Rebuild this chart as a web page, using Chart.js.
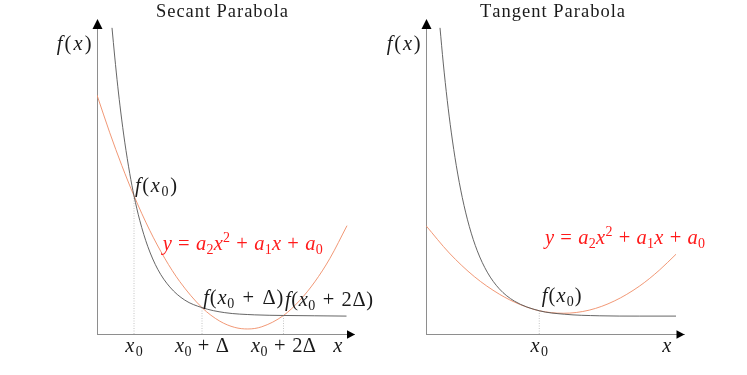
<!DOCTYPE html>
<html><head><meta charset="utf-8">
<script src="https://cdn.jsdelivr.net/npm/chart.js@4.4.1/dist/chart.umd.min.js"></script>
<style>
html,body{margin:0;padding:0;background:#fff;}
#wrap{position:relative;width:747px;height:375px;overflow:hidden;}
canvas{position:absolute;left:0;top:0;}
</style></head><body>
<div id="wrap"><canvas id="c1" width="747" height="375"></canvas><canvas id="c2" width="747" height="375"></canvas></div>
<script>
// ---------- Data (axis units) ----------
// Secant panel
const secantCurveX = [0.60,0.71,0.83,0.95,1.11,1.31,1.48,1.71,2.03,2.43,2.91,3.51,4.20,5.11,6.31,7.46,8.71,9.98];
const secantCurveY = [9.75,8.82,7.89,7.07,6.11,5.11,4.40,3.62,2.79,2.06,1.50,1.08,0.84,0.68,0.61,0.59,0.58,0.57];
const secantParabolaX = [0,0.51,0.99,1.48,2.11,2.71,3.31,4.20,4.91,5.51,6.03,6.59,7.46,8.11,8.71,9.31,10.0];
const secantParabolaY = [7.61,6.41,5.37,4.40,3.30,2.41,1.67,0.84,0.41,0.21,0.16,0.23,0.59,1.07,1.66,2.40,3.45];
const secantPointX = [1.48,4.20,7.46];
const secantPointY = [4.40,0.84,0.59];
const secantTickLabels = ['x_0','x_0 + Δ','x_0 + 2Δ'];
const secantPointLabels = ['f(x_0)','f(x_0 + Δ)','f(x_0 + 2Δ)'];
// Tangent panel
const tangentCurveX = [0.56,0.69,0.85,1.01,1.21,1.45,1.73,2.05,2.45,2.93,3.53,4.53,5.53,6.93,8.53,10.0];
const tangentCurveY = [9.75,8.63,7.44,6.43,5.37,4.35,3.43,2.65,1.97,1.44,1.05,0.74,0.63,0.58,0.57,0.57];
const tangentParabolaX = [0,0.93,1.93,2.93,3.73,4.53,5.49,6.53,7.53,8.53,9.33,10.0];
const tangentParabolaY = [3.45,2.58,1.83,1.27,0.95,0.74,0.66,0.76,1.05,1.52,2.03,2.54];
const tangentPointX = [4.53];
const tangentPointY = [0.74];
const tangentTickLabels = ['x_0'];
const tangentPointLabels = ['f(x_0)'];
const titles = ['Secant Parabola','Tangent Parabola'];
const formulaText = 'y = a_2x^2 + a_1x + a_0';
const yAxisText = 'f(x)';
const xAxisText = 'x';

// ---------- Helpers ----------
const FAM = "'Liberation Serif','Times New Roman',serif";
function drawMath(ctx, str, x, y, o) {
  o = o || {};
  const size = o.size || 20.5;
  const toks = [];
  for (let i = 0; i < str.length; i++) {
    let ch = str[i], mode = 'n';
    if (ch === '_' || ch === '^') { mode = ch === '_' ? 'sub' : 'sup'; ch = str[++i]; }
    toks.push({ch, mode});
  }
  const fontFor = t => {
    const s = t.mode === 'n' ? size : Math.round(size * 0.7);
    const it = (/[a-zA-Z]/.test(t.ch) && !o.upright) ? 'italic ' : '';
    return it + s + 'px ' + FAM;
  };
  let w = 0;
  toks.forEach(t => { ctx.font = fontFor(t); t.w = ctx.measureText(t.ch).width; w += t.w; });
  const wts = [];
  let wsum = 0;
  for (let i = 0; i < toks.length - 1; i++) {
    const sp = toks[i].ch === ' ' || toks[i + 1].ch === ' ';
    const wt = o.upright ? 1 : (sp ? 2 : 1);
    wts.push(wt); wsum += wt;
  }
  let unit = 0;
  if (o.width && wsum > 0) unit = (o.width - w) / wsum;
  const total = o.width && wsum > 0 ? o.width : w;
  let cx = o.align === 'center' ? x - total / 2 : (o.align === 'right' ? x - total : x);
  ctx.save();
  ctx.fillStyle = o.color || '#1a1a1a';
  ctx.textBaseline = 'alphabetic';
  ctx.textAlign = 'left';
  toks.forEach((t, i) => {
    ctx.font = fontFor(t);
    const dy = t.mode === 'sub' ? size * 0.2 : (t.mode === 'sup' ? -size * 0.38 : 0);
    ctx.fillText(t.ch, cx, y + dy);
    cx += t.w + (i < wts.length ? wts[i] * unit : 0);
  });
  ctx.restore();
}
function pts(xs, ys) { return xs.map((x, i) => ({x, y: ys[i]})); }

const decorPlugin = {
  id: 'decor',
  afterDraw(chart) {
    const o = chart.options.plugins.decor;
    const ctx = chart.ctx, a = chart.chartArea;
    const xs = chart.scales.x;
    ctx.save();
    ctx.fillStyle = '#000';
    const ax = a.left + 0.5;
    ctx.beginPath(); ctx.moveTo(ax, a.top - 1); ctx.lineTo(ax - 5, a.top + 9); ctx.lineTo(ax + 5, a.top + 9); ctx.closePath(); ctx.fill();
    const ay = a.bottom + 0.5;
    ctx.beginPath(); ctx.moveTo(a.right + 0.5, ay); ctx.lineTo(a.right - 7.5, ay - 4.2); ctx.lineTo(a.right - 7.5, ay + 4.2); ctx.closePath(); ctx.fill();
    ctx.restore();
    drawMath(ctx, o.title, o.titlePos[0], o.titlePos[1], {upright: true, align: 'center', width: o.titleWidth, size: 18.5});
    drawMath(ctx, yAxisText, o.fxPos[0], o.fxPos[1], {width: o.fxWidth});
    drawMath(ctx, xAxisText, o.xPos[0], o.xPos[1], {align: 'center'});
    o.tickValues.forEach((v, i) => {
      drawMath(ctx, o.tickLabels[i], xs.getPixelForValue(v), o.tickBaseline, {align: 'center', width: o.tickWidths[i]});
    });
    o.pointLabels.forEach((t, i) => {
      const p = o.pointLabelPos[i];
      drawMath(ctx, t, p[0], p[1], {width: o.pointLabelWidths[i]});
    });
    drawMath(ctx, formulaText, o.formulaPos[0], o.formulaPos[1], {color: '#ff1a1a', width: 160});
  }
};

function makeChart(id, cfg) {
  const dotted = cfg.px.map((x, i) => ({
    data: [{x, y: 0}, {x, y: cfg.py[i]}],
    borderColor: '#c4c4c4', borderWidth: 1, borderDash: [1, 1.5],
    pointRadius: 0, showLine: true, order: 3
  }));
  return new Chart(document.getElementById(id), {
    type: 'scatter',
    data: {
      datasets: [
        {data: pts(cfg.cx, cfg.cy), borderColor: '#555555', borderWidth: 0.9, pointRadius: 0, showLine: true, cubicInterpolationMode: 'monotone', order: 0},
        {data: pts(cfg.qx, cfg.qy), borderColor: '#ef8c66', borderWidth: 0.9, pointRadius: 0, showLine: true, cubicInterpolationMode: 'monotone', order: 1},
        ...dotted
      ]
    },
    options: {
      responsive: false, animation: false, devicePixelRatio: 1,
      layout: {padding: cfg.padding},
      scales: {
        x: {type: 'linear', min: 0, max: cfg.xmax, grid: {display: false}, ticks: {display: false},
            border: {display: true, color: '#8e8e8e', width: 1},
            afterFit: s => { s.height = 41; }},
        y: {type: 'linear', min: 0, max: 10, grid: {display: false}, ticks: {display: false},
            border: {display: true, color: '#8e8e8e', width: 1},
            afterFit: s => { s.width = 0; }}
      },
      plugins: {legend: {display: false}, tooltip: {enabled: false}, title: {display: false},
        decor: cfg.decor}
    },
    plugins: [decorPlugin]
  });
}

makeChart('c1', {
  cx: secantCurveX, cy: secantCurveY, qx: secantParabolaX, qy: secantParabolaY,
  px: secantPointX, py: secantPointY, xmax: 10.3,
  padding: {left: 97, right: 747 - 354.5, top: 20, bottom: 0},
  decor: {
    title: titles[0], titlePos: [222, 17], titleWidth: 132,
    fxPos: [56.7, 50], fxWidth: 35, xPos: [337.7, 351.5],
    tickValues: secantPointX, tickLabels: secantTickLabels, tickBaseline: 352, tickWidths: [17.7, 54, 65],
    pointLabels: secantPointLabels, pointLabelPos: [[135, 192], [203.3, 304], [285, 306]], pointLabelWidths: [42, 80, 88],
    formulaPos: [162.7, 249.5]
  }
});
makeChart('c2', {
  cx: tangentCurveX, cy: tangentCurveY, qx: tangentParabolaX, qy: tangentParabolaY,
  px: tangentPointX, py: tangentPointY, xmax: 10.32,
  padding: {left: 426, right: 747 - 684, top: 20, bottom: 0},
  decor: {
    title: titles[1], titlePos: [552.5, 17], titleWidth: 145,
    fxPos: [386.7, 50], fxWidth: 34, xPos: [666.7, 351.5],
    tickValues: tangentPointX, tickLabels: tangentTickLabels, tickBaseline: 352, tickWidths: [17.7],
    pointLabels: tangentPointLabels, pointLabelPos: [[541.7, 301.7]], pointLabelWidths: [40],
    formulaPos: [545, 243.5]
  }
});
</script>
</body></html>
